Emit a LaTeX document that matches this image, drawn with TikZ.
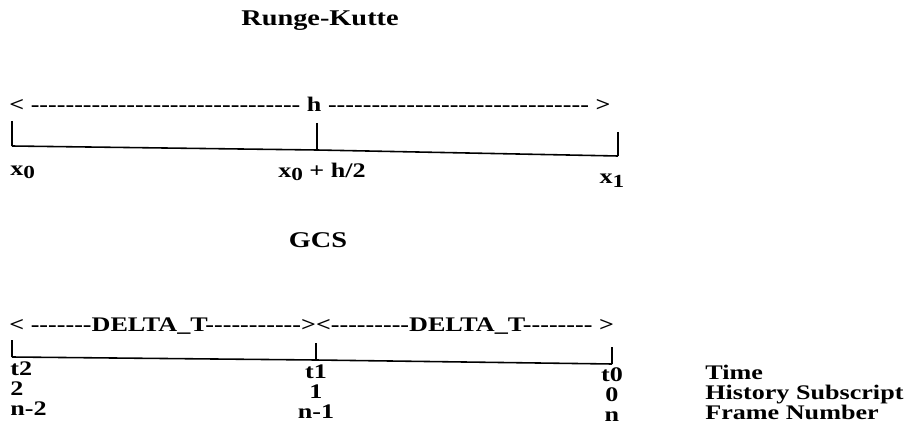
\documentclass[tikz,border=0pt]{standalone}
\usepackage{fontspec}
\setmainfont{Liberation Serif}[FakeStretch=1.26]
\usetikzlibrary{positioning}

% a run of plain hyphens (no en-dash ligature)
\newcommand{\dsh}[1]{\foreach \i in {1,...,#1}{-}}
% lowered index digit
\newcommand{\low}[1]{\raisebox{-0.35ex}{\fontsize{10.5}{11}\selectfont #1}}

\begin{document}
\begin{tikzpicture}[
    x=0.02cm, y=-0.02cm,
    font=\fontsize{11.8}{14}\selectfont\bfseries,
    title/.style={inner sep=0pt, anchor=center, font=\fontsize{12.8}{15}\selectfont\bfseries},
    span/.style={inner sep=0pt, anchor=west},
    lbl/.style={inner sep=0pt, anchor=base},
    lblw/.style={inner sep=0pt, anchor=base west},
    tick/.style={black, line width=1pt},
    axis/.style={black, line width=0.9pt}
]
\useasboundingbox (0,0) rectangle (915,432);

% Runge-Kutte step
\node[title] (rk) at (320,21) {Runge-Kutte};

\node[span] (hspan) at (9,104)
{< \dsh{31} h \dsh{30} >};

\coordinate (a0t) at (12,121);
\coordinate (a0b) at (12,146);
\coordinate (a1t) at (317,123);
\coordinate (a1b) at (317,150);
\coordinate (a2t) at (618,132);
\coordinate (a2b) at (618,156);

\draw[tick] (a0t) -- (a0b);
\draw[tick] (a1t) -- (a1b);
\draw[tick] (a2t) -- (a2b);
\draw[axis] (a0b) -- (a1b) -- (a2b);

\node[lblw] (x0) at (10,175) {x\low{0}};
\node[lbl] (xh) at (322,177) {x\low{0} + h/2};
\node[lbl] (x1) at (612,184) {x\low{1}};

% GCS step
\node[title] (gcs) at (318,240) {GCS};

\node[span] (dspan) at (9,326)
{< \dsh{7}DELTA\_T\dsh{11}><\dsh{9}DELTA\_T\dsh{8} >};

\coordinate (b0t) at (12,340);
\coordinate (b0b) at (12,357);
\coordinate (b1t) at (316,343);
\coordinate (b1b) at (316,360);
\coordinate (b2t) at (612,347);
\coordinate (b2b) at (612,364);

\draw[tick] (b0t) -- (b0b);
\draw[tick] (b1t) -- (b1b);
\draw[tick] (b2t) -- (b2b);
\draw[axis] (b0b) -- (b1b) -- (b2b);

% time row
\node[lblw] (t2) at (10,375) {t2};
\node[lbl] (t1) at (316,378) {t1};
\node[lbl] (t0) at (612,381) {t0};
\node[lblw] (time) at (705,379) {Time};

% history subscript row
\node[lblw] (h2) at (10,395) {2};
\node[lbl] (h1) at (316,398) {1};
\node[lbl] (h0) at (612,401) {0};
\node[lblw] (hist) at (705,399) {History Subscript};

% frame number row
\node[lblw] (f2) at (10,415) {n-2};
\node[lbl] (f1) at (316,418) {n-1};
\node[lbl] (f0) at (612,421) {n};
\node[lblw] (frame) at (705,419) {Frame Number};

\end{tikzpicture}
\end{document}
